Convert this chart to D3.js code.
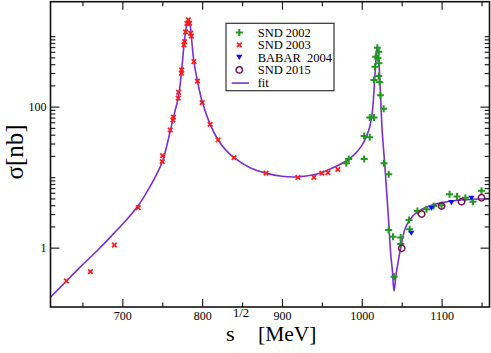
<!DOCTYPE html>
<html><head><meta charset="utf-8">
<script src="https://cdn.jsdelivr.net/npm/d3@7"></script>
<style>
html,body{margin:0;padding:0;background:#fff;}
</style></head>
<body><svg id="c" width="491" height="353"></svg>
<script>
// ---- data ----
const fitE = [610,630,650,670,690,705,720,730,740,750,755,760,766,770,774,777,780.2,782.7,785.2,787.2,789.7,794,800,810,820,830,840,860,880,900,920,940,955,970,980,990,1000,1005,1010,1013,1015,1017,1018.5,1019.5,1020.5,1021.5,1022.5,1024,1025.3,1027,1028.7,1031,1033,1035,1036.5,1038.3,1039.5,1040.4,1041.3,1042.5,1045.4,1048.7,1053.7,1060,1070,1085,1100,1125,1160];
const fitV = [0.198,0.337,0.569,0.943,1.62,2.47,3.97,5.97,9.43,16.4,25.9,45.2,86.9,131.5,298,700,1365,1700,1365,800,436,235,118,56,33.7,24,18.9,13.6,11.4,10.3,10.1,10.8,12.3,14.6,16.8,20.5,28,36,52,80,150,350,590,710,640,440,260,110,50,27,15.7,6.5,3.1,1.3,0.75,0.48,0.3,0.245,0.28,0.38,0.62,0.98,1.78,2.47,3.24,3.9,4.35,4.75,4.95];

const snd2003E = [630,660,690,720,750,750.5,760,763.4,764,770,770.5,774,774.3,777.2,778,779.3,781,782.7,784.3,785.6,786.5,789.7,794,800,810,820,840,880,920,940,950,957.6,970];
const snd2003V = [0.337,0.457,1.09,3.69,16.6,20.2,46.7,64.7,70.8,132,160,298,331,750,836,1150,1520,1700,1520,1100,1000,436,230,114,56,33.7,18.9,11.4,9.9,9.97,11.4,11.6,12.9];

const snd2002E = [980.7,983.6,1003,1003,1010,1010,1015.3,1015.3,1016.5,1017.4,1019.5,1020.3,1021.2,1021.2,1021.6,1022.4,1023.3,1027.4,1027.8,1033.7,1033.7,1039.1,1040.4,1048.7,1048.7,1059.2,1060,1069.7,1081,1090,1100,1110,1119.3,1129.8,1139.3,1150];
const snd2002V = [15.7,18.1,18.1,38.5,36.8,70,70,239,369,512,687,486,603,272,413,224,145,93.5,15.7,11,1.78,1.43,0.388,1.39,1.13,2.47,1.82,3.31,3.51,3.9,4.0,5.7,5.3,5.1,4.49,6.4];

const babarE = [1062,1087.2,1112.3,1137.3];
const babarV = [1.6,3.62,4.35,5.02];

const snd2015E = [1050,1075,1100,1125,1150];
const snd2015V = [0.98,3.0,3.9,4.49,5.1];

const xMajor = [700,800,900,1000,1100];
const xMinor = [650,750,850,950,1050,1150];
const yMajor = [1,100];
const yMinor = [2,3,4,5,6,7,8,9,10,20,30,40,50,60,70,80,90,200,300,400,500,600,700,800,900,1000];
const legendLabels = ["SND 2002","SND 2003","BABAR  2004","SND 2015","fit"];

// ---- colours / layout ----
const FONT = "Liberation Serif, Times New Roman, serif";
const C = {fit:"#7b2fd2", green:"#1f9a1f", red:"#ff1a1a", blue:"#1010ee", circ:"#7a1050"};
const L = 50.5, R = 489.5, T = 1.7, B = 307;

const svg = d3.select("#c");
const x = d3.scaleLinear().domain([610,1160]).range([L,R]);
const y = d3.scaleLog().domain([0.144,3080]).range([B,T]);

// fit curve
const line = d3.line().x(d=>x(d[0])).y(d=>y(d[1])).curve(d3.curveCatmullRom.alpha(0.5));
svg.append("path").datum(fitE.map((e,i)=>[e,fitV[i]]))
  .attr("d",line).attr("fill","none").attr("stroke",C.fit).attr("stroke-width",1.6);

// markers
const sym = {
  plus:"M-3.5,0H3.5M0,-3.5V3.5",
  cross:"M-2.3,-2.3L2.3,2.3M-2.3,2.3L2.3,-2.3",
  tri:"M-3.2,-2.6L3.2,-2.6L0,2.6Z"
};
function pts(E,V,draw){
  const g = svg.append("g");
  E.forEach((e,i)=>{ draw(g.append("g").attr("transform",`translate(${x(e)},${y(V[i])})`)); });
}
const drawPlus = g=>g.append("path").attr("d",sym.plus).attr("stroke",C.green).attr("stroke-width",2).attr("fill","none");
const drawCross = g=>g.append("path").attr("d",sym.cross).attr("stroke",C.red).attr("stroke-width",1.7).attr("fill","none");
const drawTri = g=>g.append("path").attr("d",sym.tri).attr("fill",C.blue);
const drawCirc = g=>g.append("circle").attr("r",3.2).attr("fill","none").attr("stroke",C.circ).attr("stroke-width",1.5);

pts(snd2003E,snd2003V,drawCross);
pts(snd2002E,snd2002V,drawPlus);
pts(babarE,babarV,drawTri);
pts(snd2015E,snd2015V,drawCirc);

// axes
function ax(gen, tx, ty){
  const g = svg.append("g").attr("transform",`translate(${tx},${ty})`).call(gen);
  g.attr("font-family",FONT).attr("font-size",12);
  g.select(".domain").remove();
  g.selectAll("line").attr("stroke","#222").attr("stroke-width",1.2);
  g.selectAll("text").attr("fill","#000").attr("font-family",FONT).attr("font-size",12);
  return g;
}
ax(d3.axisBottom(x).tickValues(xMajor).tickSize(-8).tickPadding(4).tickFormat(d3.format("d")),0,B);
ax(d3.axisBottom(x).tickValues(xMinor).tickSize(-4.5).tickFormat(""),0,B);
ax(d3.axisTop(x).tickValues(xMajor).tickSize(-8).tickFormat(""),0,T);
ax(d3.axisTop(x).tickValues(xMinor).tickSize(-4.5).tickFormat(""),0,T);
ax(d3.axisLeft(y).tickValues(yMajor).tickSize(-9).tickPadding(4).tickFormat(d3.format("d")),L,0);
ax(d3.axisLeft(y).tickValues(yMinor).tickSize(-4.8).tickFormat(""),L,0);
ax(d3.axisRight(y).tickValues(yMajor).tickSize(-9).tickFormat(""),R,0);
ax(d3.axisRight(y).tickValues(yMinor).tickSize(-4.8).tickFormat(""),R,0);

// frame
svg.append("rect").attr("x",L).attr("y",T).attr("width",R-L).attr("height",B-T)
  .attr("fill","none").attr("stroke","#111").attr("stroke-width",1.6);

// axis titles
svg.append("text").attr("transform","translate(23,152) rotate(-90)")
  .attr("text-anchor","middle").attr("font-family",FONT).attr("font-size",25).text("σ[nb]");
const xt = svg.append("g").attr("font-family",FONT);
xt.append("text").attr("x",226).attr("y",341).attr("font-size",22).text("s");
xt.append("text").attr("x",233).attr("y",317).attr("font-size",12.5).text("1/2");
xt.append("text").attr("x",258).attr("y",341).attr("font-size",21.5).text("[MeV]");

// legend
const lg = svg.append("g").attr("font-family",FONT);
lg.append("rect").attr("x",226).attr("y",23.3).attr("width",108).attr("height",67.4)
  .attr("fill","#fff").attr("stroke","#333").attr("stroke-width",1.2);
const draws = [drawPlus,drawCross,drawTri,drawCirc];
legendLabels.forEach((t,i)=>{
  const by = 36.7 + i*12.5;
  if(i<4){ draws[i](lg.append("g").attr("transform",`translate(239.3,${by-4.3})`)); }
  else { lg.append("line").attr("x1",231.7).attr("x2",249).attr("y1",by-3.6).attr("y2",by-3.6)
          .attr("stroke",C.fit).attr("stroke-width",1.6); }
  lg.append("text").attr("x",257.7).attr("y",by).attr("font-size",12.5)
    .attr("font-family",FONT).style("white-space","pre").text(t);
});
</script></body></html>
